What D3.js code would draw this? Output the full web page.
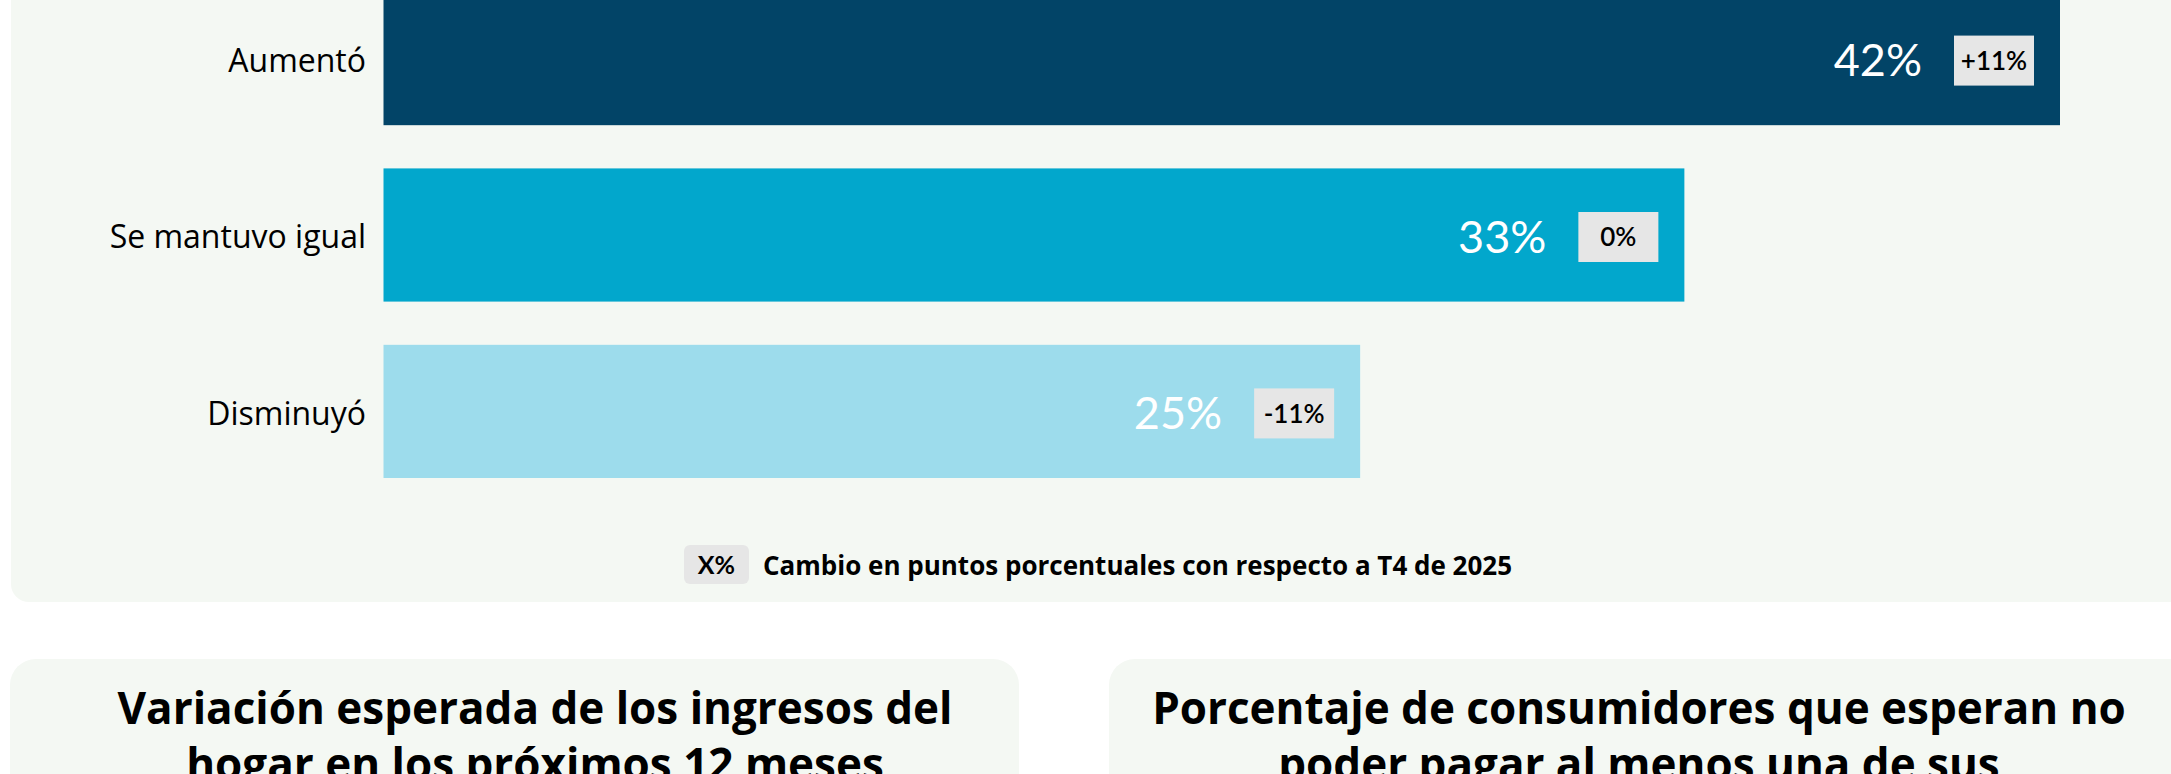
<!DOCTYPE html>
<html>
<head>
<meta charset="utf-8">
<script src="https://cdn.jsdelivr.net/npm/d3@7"></script>
<style>
  body { margin: 0; background: #fff; }
  svg text { font-family: Lato, "Open Sans", sans-serif; }
  svg text.wide { font-family: "Open Sans", Lato, sans-serif; }
</style>
</head>
<body>
<div id="chart"></div>
<script>
var width = 2171, height = 774

// data
var categories = ["Aumentó", "Se mantuvo igual", "Disminuyó"]
var values = [42.4, 32.9, 24.7]
var changes = ["+11%", "0%", "-11%"]
var barColors = ["#024467", "#02a7cc", "#9ddcec"]
var legendText = "Cambio en puntos porcentuales con respecto a T4 de 2025"
var leftTitle = ["Variación esperada de los ingresos del", "hogar en los próximos 12 meses"]
var rightTitle = ["Porcentaje de consumidores que esperan no", "poder pagar al menos una de sus"]

const svg = d3.select('#chart')
    .append('svg')
    .attr("width", width)
    .attr("height", height)

// top panel
svg.append("rect")
    .attr("x", 11).attr("y", -40)
    .attr("width", 2200).attr("height", 642)
    .attr("rx", 18)
    .attr("fill", "#f4f8f3")

// bottom panels
svg.append("rect")
    .attr("x", 10).attr("y", 659)
    .attr("width", 1009).attr("height", 200)
    .attr("rx", 26)
    .attr("fill", "#f4f8f3")
svg.append("rect")
    .attr("x", 1109).attr("y", 659)
    .attr("width", 1200).attr("height", 200)
    .attr("rx", 26)
    .attr("fill", "#f4f8f3")

var x = d3.scaleLinear()
    .domain([0, values[0]])
    .range([383.5, 2060])

var y = d3.scaleBand()
    .domain(categories)
    .range([-8, 478])
    .paddingInner(0.245)
    .paddingOuter(0)

var data = categories.map(function(c, i){ return {cat: c, v: values[i], ch: changes[i], col: barColors[i]} })

var g = svg.append("g")

g.selectAll("rect.bar")
    .data(data)
    .enter()
    .append("rect")
    .attr("class", "bar")
    .attr("x", x(0))
    .attr("y", function(d){ return y(d.cat) })
    .attr("width", function(d){ return x(d.v) - x(0) })
    .attr("height", y.bandwidth())
    .attr("fill", function(d){ return d.col })

// category labels
g.selectAll("text.cat")
    .data(data)
    .enter()
    .append("text")
    .attr("class", "cat wide")
    .attr("x", 366)
    .attr("y", function(d){ return y(d.cat) + y.bandwidth()/2 + 2 })
    .attr("dy", "0.35em")
    .attr("text-anchor", "end")
    .attr("font-size", 32)
    .attr("font-weight", 500)
    .attr("fill", "#000")
    .text(function(d){ return d.cat })

var boxW = 80, boxH = 50

// change boxes
g.selectAll("rect.box")
    .data(data)
    .enter()
    .append("rect")
    .attr("class", "box")
    .attr("x", function(d){ return x(d.v) - 26 - boxW })
    .attr("y", function(d){ return y(d.cat) + y.bandwidth()/2 + 2 - boxH/2 })
    .attr("width", boxW)
    .attr("height", boxH)
    .attr("fill", "#e6e6e6")

g.selectAll("text.ch")
    .data(data)
    .enter()
    .append("text")
    .attr("class", "ch")
    .attr("x", function(d){ return x(d.v) - 26 - boxW/2 })
    .attr("y", function(d){ return y(d.cat) + y.bandwidth()/2 + 2 })
    .attr("dy", "0.35em")
    .attr("text-anchor", "middle")
    .attr("font-size", 26)
    .attr("font-weight", 600)
    .attr("fill", "#000")
    .text(function(d){ return d.ch })

// value labels
g.selectAll("text.val")
    .data(data)
    .enter()
    .append("text")
    .attr("class", "val")
    .attr("x", function(d){ return x(d.v) - 26 - boxW - 32 })
    .attr("y", function(d){ return y(d.cat) + y.bandwidth()/2 + 2 })
    .attr("dy", "0.35em")
    .attr("text-anchor", "end")
    .attr("font-size", 45)
    .attr("fill", "#fff")
    .text(function(d){ return Math.round(d.v) + "%" })

// legend
var lg = svg.append("g").attr("transform", "translate(684,545)")
lg.append("rect")
    .attr("width", 65).attr("height", 39)
    .attr("rx", 6)
    .attr("fill", "#e6e6e6")
lg.append("text")
    .attr("x", 32.5).attr("y", 20)
    .attr("dy", "0.35em")
    .attr("text-anchor", "middle")
    .attr("font-size", 25)
    .attr("font-weight", 700)
    .text("X%")
lg.append("text")
    .attr("class", "wide")
    .attr("x", 79).attr("y", 21)
    .attr("dy", "0.35em")
    .attr("font-size", 26)
    .attr("font-weight", 700)
    .text(legendText)

// bottom titles
function title(lines, cx){
    svg.append("g").selectAll("text")
        .data(lines)
        .enter()
        .append("text")
        .attr("class", "wide")
        .attr("x", cx)
        .attr("y", function(d, i){ return 724 + i*56 })
        .attr("text-anchor", "middle")
        .attr("font-size", 44)
        .attr("font-weight", 700)
        .attr("fill", "#000")
        .text(function(d){ return d })
}
title(leftTitle, 535)
title(rightTitle, 1639)
</script>
</body>
</html>
